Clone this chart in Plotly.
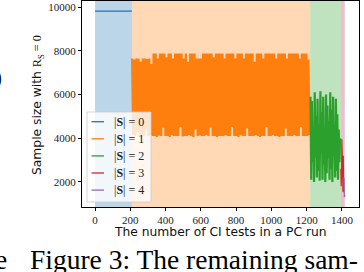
import plotly.graph_objects as go

# ---------------- data ----------------
levels = [0, 1, 2, 3, 4]
colors = ["#1f77b4", "#ff7f0e", "#2ca02c", "#d62728", "#9467bd"]
legend_labels = ["|<b>S</b>| = 0", "|<b>S</b>| = 1", "|<b>S</b>| = 2", "|<b>S</b>| = 3", "|<b>S</b>| = 4"]

# first CI-test index and index step of each |S| level
level_start = [0, 210, 1222, 1394, 1412]
level_step = [209, 6.1, 4.0, 2.0, 2.0]

size0_vals = [9820, 9820]
size1_vals = [
    7650, 4150, 7600, 4100, 7650, 4300, 7650, 4100, 7500, 4150, 7650, 4100, 7650, 4450, 7620, 4100, 7650, 4150, 7400, 4100,
    7880, 4100, 7880, 4050, 7650, 4120, 7880, 4100, 7880, 4480, 7880, 4100, 7700, 4100, 7880, 4050, 7880, 4150, 7650, 4100,
    7880, 4100, 7880, 4100, 7880, 4500, 7880, 4080, 7650, 4100, 7880, 4100, 7500, 4150, 7880, 4100, 7880, 4050, 7880, 4400,
    7650, 4100, 7650, 4120, 7650, 4100, 7880, 4100, 7880, 4150, 7880, 4100, 7880, 4480, 7880, 4100, 7700, 4100, 7880, 4050,
    7880, 4100, 7880, 4100, 7880, 4100, 7650, 4150, 7880, 4100, 7880, 4100, 7880, 4500, 7880, 4100, 7650, 4100, 7880, 4050,
    7880, 4150, 7880, 4100, 7650, 4100, 7880, 4450, 7880, 4100, 7880, 4100, 7880, 4100, 7500, 4150, 7880, 4100, 7880, 4050,
    7880, 4100, 7650, 4100, 7880, 4500, 7880, 4100, 7880, 4100, 7880, 4150, 7880, 4100, 7650, 4100, 7880, 4050, 7880, 4100,
    7880, 4100, 7880, 4450, 7650, 4100, 7880, 4100, 7880, 4100, 7880, 4150, 7880, 4100, 7880, 4100, 7650, 4500, 7880, 4100,
    7880, 4100, 7880, 4100, 7600, 4150,
]
size2_vals = [
    5900, 2100, 5700, 2900, 4500, 2000, 6100, 3100, 5000, 2200, 5800, 2500, 4600, 2050, 6150, 3300,
    5200, 2100, 5900, 2800, 4300, 2000, 6000, 2400, 5500, 3100, 4800, 2100, 6100, 2600, 5300, 2000,
    5900, 3200, 4600, 2200, 5800, 2500, 5100, 2100, 4400, 2900, 4000,
]
size3_vals = [2600, 1800, 2400, 3950, 1600, 3900, 1550, 3200, 1520]
size4_vals = [2200, 1300, 2000, 1400]
level_vals = [size0_vals, size1_vals, size2_vals, size3_vals, size4_vals]

# shaded spans of CI-test indices for each level
span_start = [0, 209, 1220, 1394, 1412]
span_end = [209, 1220, 1394, 1412, 1418]

x_ticks = [0, 200, 400, 600, 800, 1000, 1200, 1400]
y_ticks = [2000, 4000, 6000, 8000, 10000]
x_range = [-74, 1497]
y_range = [850, 10280]

x_title = "The number of CI tests in a PC run"
y_title = ("Sample size with <span style='font-family:Liberation Serif'>R<sub>S</sub> = 0</span>")
caption = "Figure 3: The remaining sam-"

# ---------------- figure ----------------
W, H = 364, 272
L, R, T, B = 82, 5, 1, 65
PW, PH = W - L - R, H - T - B


def px_x(p):
    return (p - L) / PW


def px_y(p):
    return (H - B - p) / PH


fig = go.Figure()

for lvl, col, vals, st, stp in zip(levels, colors, level_vals, level_start, level_step):
    xs = [st + stp * i for i in range(len(vals))]
    lw = 1.2 if len(vals) < 10 else 2.2
    fig.add_trace(go.Scatter(x=xs, y=vals, mode="lines", line=dict(color=col, width=lw),
                             name=f"|S| = {lvl}", showlegend=False))

for col, a, b in zip(colors, span_start, span_end):
    fig.add_vrect(x0=a, x1=b, fillcolor=col, opacity=0.3, line_width=0, layer="below")

# hand-made legend (matplotlib style)
fig.add_shape(type="rect", xref="paper", yref="paper",
              x0=px_x(87), x1=px_x(151), y0=px_y(202), y1=px_y(112),
              fillcolor="rgba(255,255,255,0.8)", line=dict(color="#cccccc", width=0.8), layer="above")
row0, row_gap = 121.7, 17.1
for i, (col, lab) in enumerate(zip(colors, legend_labels)):
    yy = px_y(row0 + i * row_gap)
    fig.add_shape(type="line", xref="paper", yref="paper", x0=px_x(91.5), x1=px_x(104),
                  y0=yy, y1=yy, line=dict(color=col, width=1.3), layer="above")
    fig.add_annotation(xref="paper", yref="paper", x=px_x(112), y=yy, xanchor="left", yanchor="middle",
                       text=lab, showarrow=False,
                       font=dict(family="Liberation Serif", size=12, color="#222"))

# axis titles
fig.add_annotation(xref="paper", yref="paper", x=px_x(220), y=px_y(232), xanchor="center", yanchor="middle",
                   text=x_title, showarrow=False, font=dict(family="DejaVu Sans", size=12.3, color="#111"))
fig.add_annotation(xref="paper", yref="paper", x=px_x(38), y=px_y(105), xanchor="center", yanchor="middle",
                   text=y_title, textangle=-90, showarrow=False,
                   font=dict(family="DejaVu Sans", size=12.3, color="#111"))

# surrounding page text
fig.add_annotation(xref="paper", yref="paper", x=px_x(28), y=px_y(259), xanchor="left", yanchor="middle",
                   text=caption, showarrow=False, font=dict(family="Liberation Serif", size=27.5, color="#000"))
fig.add_annotation(xref="paper", yref="paper", x=px_x(9), y=px_y(259), xanchor="right", yanchor="middle",
                   text="e", showarrow=False, font=dict(family="Liberation Serif", size=27.5, color="#000"))
fig.add_annotation(xref="paper", yref="paper", x=px_x(4), y=px_y(77), xanchor="right", yanchor="middle",
                   text=")", showarrow=False, font=dict(family="Liberation Serif", size=24, color="#000"))

axis_common = dict(showline=True, linecolor="black", linewidth=0.9, mirror=True, ticks="outside",
                   ticklen=3, tickwidth=0.8, tickcolor="black", showgrid=False, zeroline=False,
                   tickfont=dict(family="Liberation Serif", size=11, color="#222"))
fig.update_xaxes(range=x_range, tickvals=x_ticks, ticktext=[str(v) for v in x_ticks], **axis_common)
fig.update_yaxes(range=y_range, tickvals=y_ticks, ticktext=[str(v) for v in y_ticks], **axis_common)

fig.update_layout(width=W, height=H, margin=dict(l=L, r=R, t=T, b=B),
                  plot_bgcolor="white", paper_bgcolor="white", showlegend=False)

fig.write_html("out.html", config={"displayModeBar": False},
               post_script="document.body.style.margin='0';document.body.style.overflow='hidden';")
